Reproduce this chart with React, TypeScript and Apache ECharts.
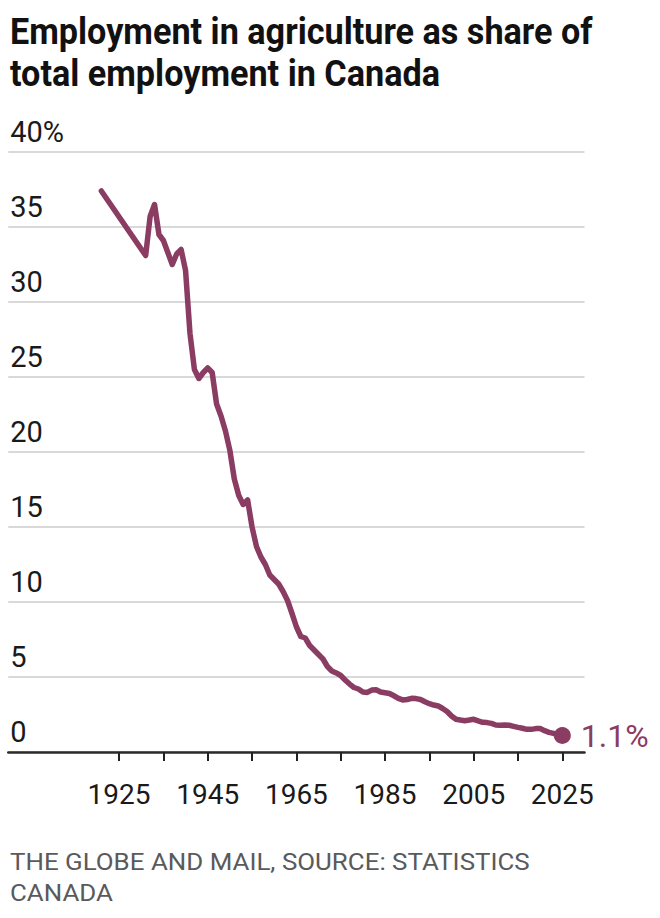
import React, { useEffect, useRef } from 'react';
import * as echarts from 'echarts';

const years = [
  1921, 1931, 1932, 1933, 1934, 1935, 1936, 1937, 1938, 1939, 1940,
  1941, 1942, 1943, 1944, 1945, 1946, 1947, 1948, 1949, 1950,
  1951, 1952, 1953, 1954, 1955, 1956, 1957, 1958, 1959, 1960,
  1961, 1962, 1963, 1964, 1965, 1966, 1967, 1968, 1969, 1970,
  1971, 1972, 1973, 1974, 1975, 1976, 1977, 1978, 1979, 1980,
  1981, 1982, 1983, 1984, 1985, 1986, 1987, 1988, 1989, 1990,
  1991, 1992, 1993, 1994, 1995, 1996, 1997, 1998, 1999, 2000,
  2001, 2002, 2003, 2004, 2005, 2006, 2007, 2008, 2009, 2010,
  2011, 2012, 2013, 2014, 2015, 2016, 2017, 2018, 2019, 2020,
  2021, 2022, 2023, 2024, 2025,
];

const shares = [
  37.4, 33.1, 35.7, 36.5, 34.5, 34.1, 33.3, 32.5, 33.2, 33.5, 32.1,
  27.9, 25.5, 24.9, 25.3, 25.6, 25.3, 23.2, 22.4, 21.4, 20.1,
  18.2, 17.1, 16.5, 16.8, 15.0, 13.7, 13.0, 12.5, 11.8, 11.5,
  11.2, 10.7, 10.1, 9.25, 8.35, 7.7, 7.6, 7.1, 6.8, 6.5,
  6.2, 5.7, 5.4, 5.27, 5.1, 4.8, 4.53, 4.3, 4.2, 4.0,
  3.97, 4.13, 4.15, 4.0, 3.95, 3.9, 3.75, 3.58, 3.47, 3.5,
  3.58, 3.56, 3.5, 3.35, 3.22, 3.13, 3.07, 2.9, 2.7, 2.4,
  2.18, 2.13, 2.09, 2.13, 2.18, 2.07, 1.98, 1.96, 1.91, 1.8,
  1.78, 1.8, 1.78, 1.71, 1.64, 1.58, 1.51, 1.51, 1.56, 1.56,
  1.42, 1.31, 1.24, 1.15, 1.1,
];

const yTickValues = [0, 5, 10, 15, 20, 25, 30, 35, 40];
const xTickYears = [1925, 1935, 1945, 1955, 1965, 1975, 1985, 1995, 2005, 2015, 2025];
const xLabelYears = [1925, 1945, 1965, 1985, 2005, 2025];
const endLabelText = '1.1%';

const titleLines = ['Employment in agriculture as share of', 'total employment in Canada'];
const sourceLines = ['THE GLOBE AND MAIL, SOURCE: STATISTICS', 'CANADA'];

const LINE_COLOR = '#8a3c62';
const FONT = "Roboto, 'Liberation Sans', sans-serif";
const TITLE_FONT = `bold 37px ${FONT}`;
const SOURCE_FONT = `23px ${FONT}`;

function measure(text: string, font: string): number {
  const c = document.createElement('canvas');
  const ctx = c.getContext('2d');
  if (!ctx) return 0;
  ctx.font = font;
  return ctx.measureText(text).width;
}

export default function App() {
  const ref = useRef<HTMLDivElement>(null);

  useEffect(() => {
    document.body.style.margin = '0';
    if (!ref.current) return;
    const chart = echarts.init(ref.current, null, { renderer: 'svg' });
    const lineData = years.map((y, i) => [y, shares[i]]);
    const last = lineData[lineData.length - 1];

    const titleW = measure(titleLines[0], TITLE_FONT);
    const titleScale = titleW > 0 ? Math.min(1, 583 / titleW) : 0.85;
    const srcW = measure(sourceLines[0], SOURCE_FONT);
    const srcScale = srcW > 0 ? Math.min(1.2, 520 / srcW) : 1;

    chart.setOption({
      animation: false,
      backgroundColor: '#ffffff',
      grid: { left: 8.25, top: 152, width: 576.25, height: 600, containLabel: false },
      xAxis: {
        type: 'value',
        min: 1900,
        max: 2030,
        splitLine: { show: false },
        axisLine: { show: true, lineStyle: { color: '#2b2b2b', width: 2.5 } },
        axisTick: {
          show: true,
          customValues: xTickYears,
          length: 9,
          lineStyle: { color: '#222222', width: 2 },
        },
        axisLabel: {
          customValues: xLabelYears,
          formatter: (v: number) => String(v),
          margin: 28,
          fontSize: 28,
          fontFamily: FONT,
          color: '#1a1a1a',
        },
      },
      yAxis: {
        type: 'value',
        min: 0,
        max: 40,
        interval: 5,
        axisLine: { show: false },
        axisTick: { show: false },
        splitLine: { show: true, lineStyle: { color: '#cccccc', width: 1.5 } },
        axisLabel: {
          inside: true,
          margin: 2,
          verticalAlign: 'bottom',
          padding: [0, 0, 6, 0],
          fontSize: 29,
          fontFamily: FONT,
          color: '#1a1a1a',
          formatter: (v: number) => (v === yTickValues[yTickValues.length - 1] ? v + '%' : String(v)),
        },
      },
      series: [
        {
          type: 'line',
          data: lineData,
          showSymbol: false,
          lineStyle: { color: LINE_COLOR, width: 5.5, cap: 'round', join: 'round' },
          z: 3,
        },
        {
          type: 'scatter',
          data: [last],
          symbol: 'circle',
          symbolSize: 17,
          itemStyle: { color: LINE_COLOR, opacity: 1 },
          label: {
            show: true,
            position: 'right',
            distance: 10,
            formatter: endLabelText,
            fontSize: 32,
            fontFamily: FONT,
            color: LINE_COLOR,
          },
          z: 4,
        },
      ],
      graphic: [
        {
          type: 'text',
          x: 10,
          y: 11,
          scaleX: titleScale,
          style: {
            text: titleLines.join('\n'),
            font: TITLE_FONT,
            lineHeight: 42,
            fill: '#111111',
            verticalAlign: 'top',
          },
        },
        {
          type: 'text',
          x: 10,
          y: 847,
          scaleX: srcScale,
          style: {
            text: sourceLines.join('\n'),
            font: SOURCE_FONT,
            lineHeight: 31,
            fill: '#5a5a5a',
            verticalAlign: 'top',
          },
        },
      ],
    });

    return () => chart.dispose();
  }, []);

  return <div ref={ref} style={{ width: 660, height: 918 }} />;
}
